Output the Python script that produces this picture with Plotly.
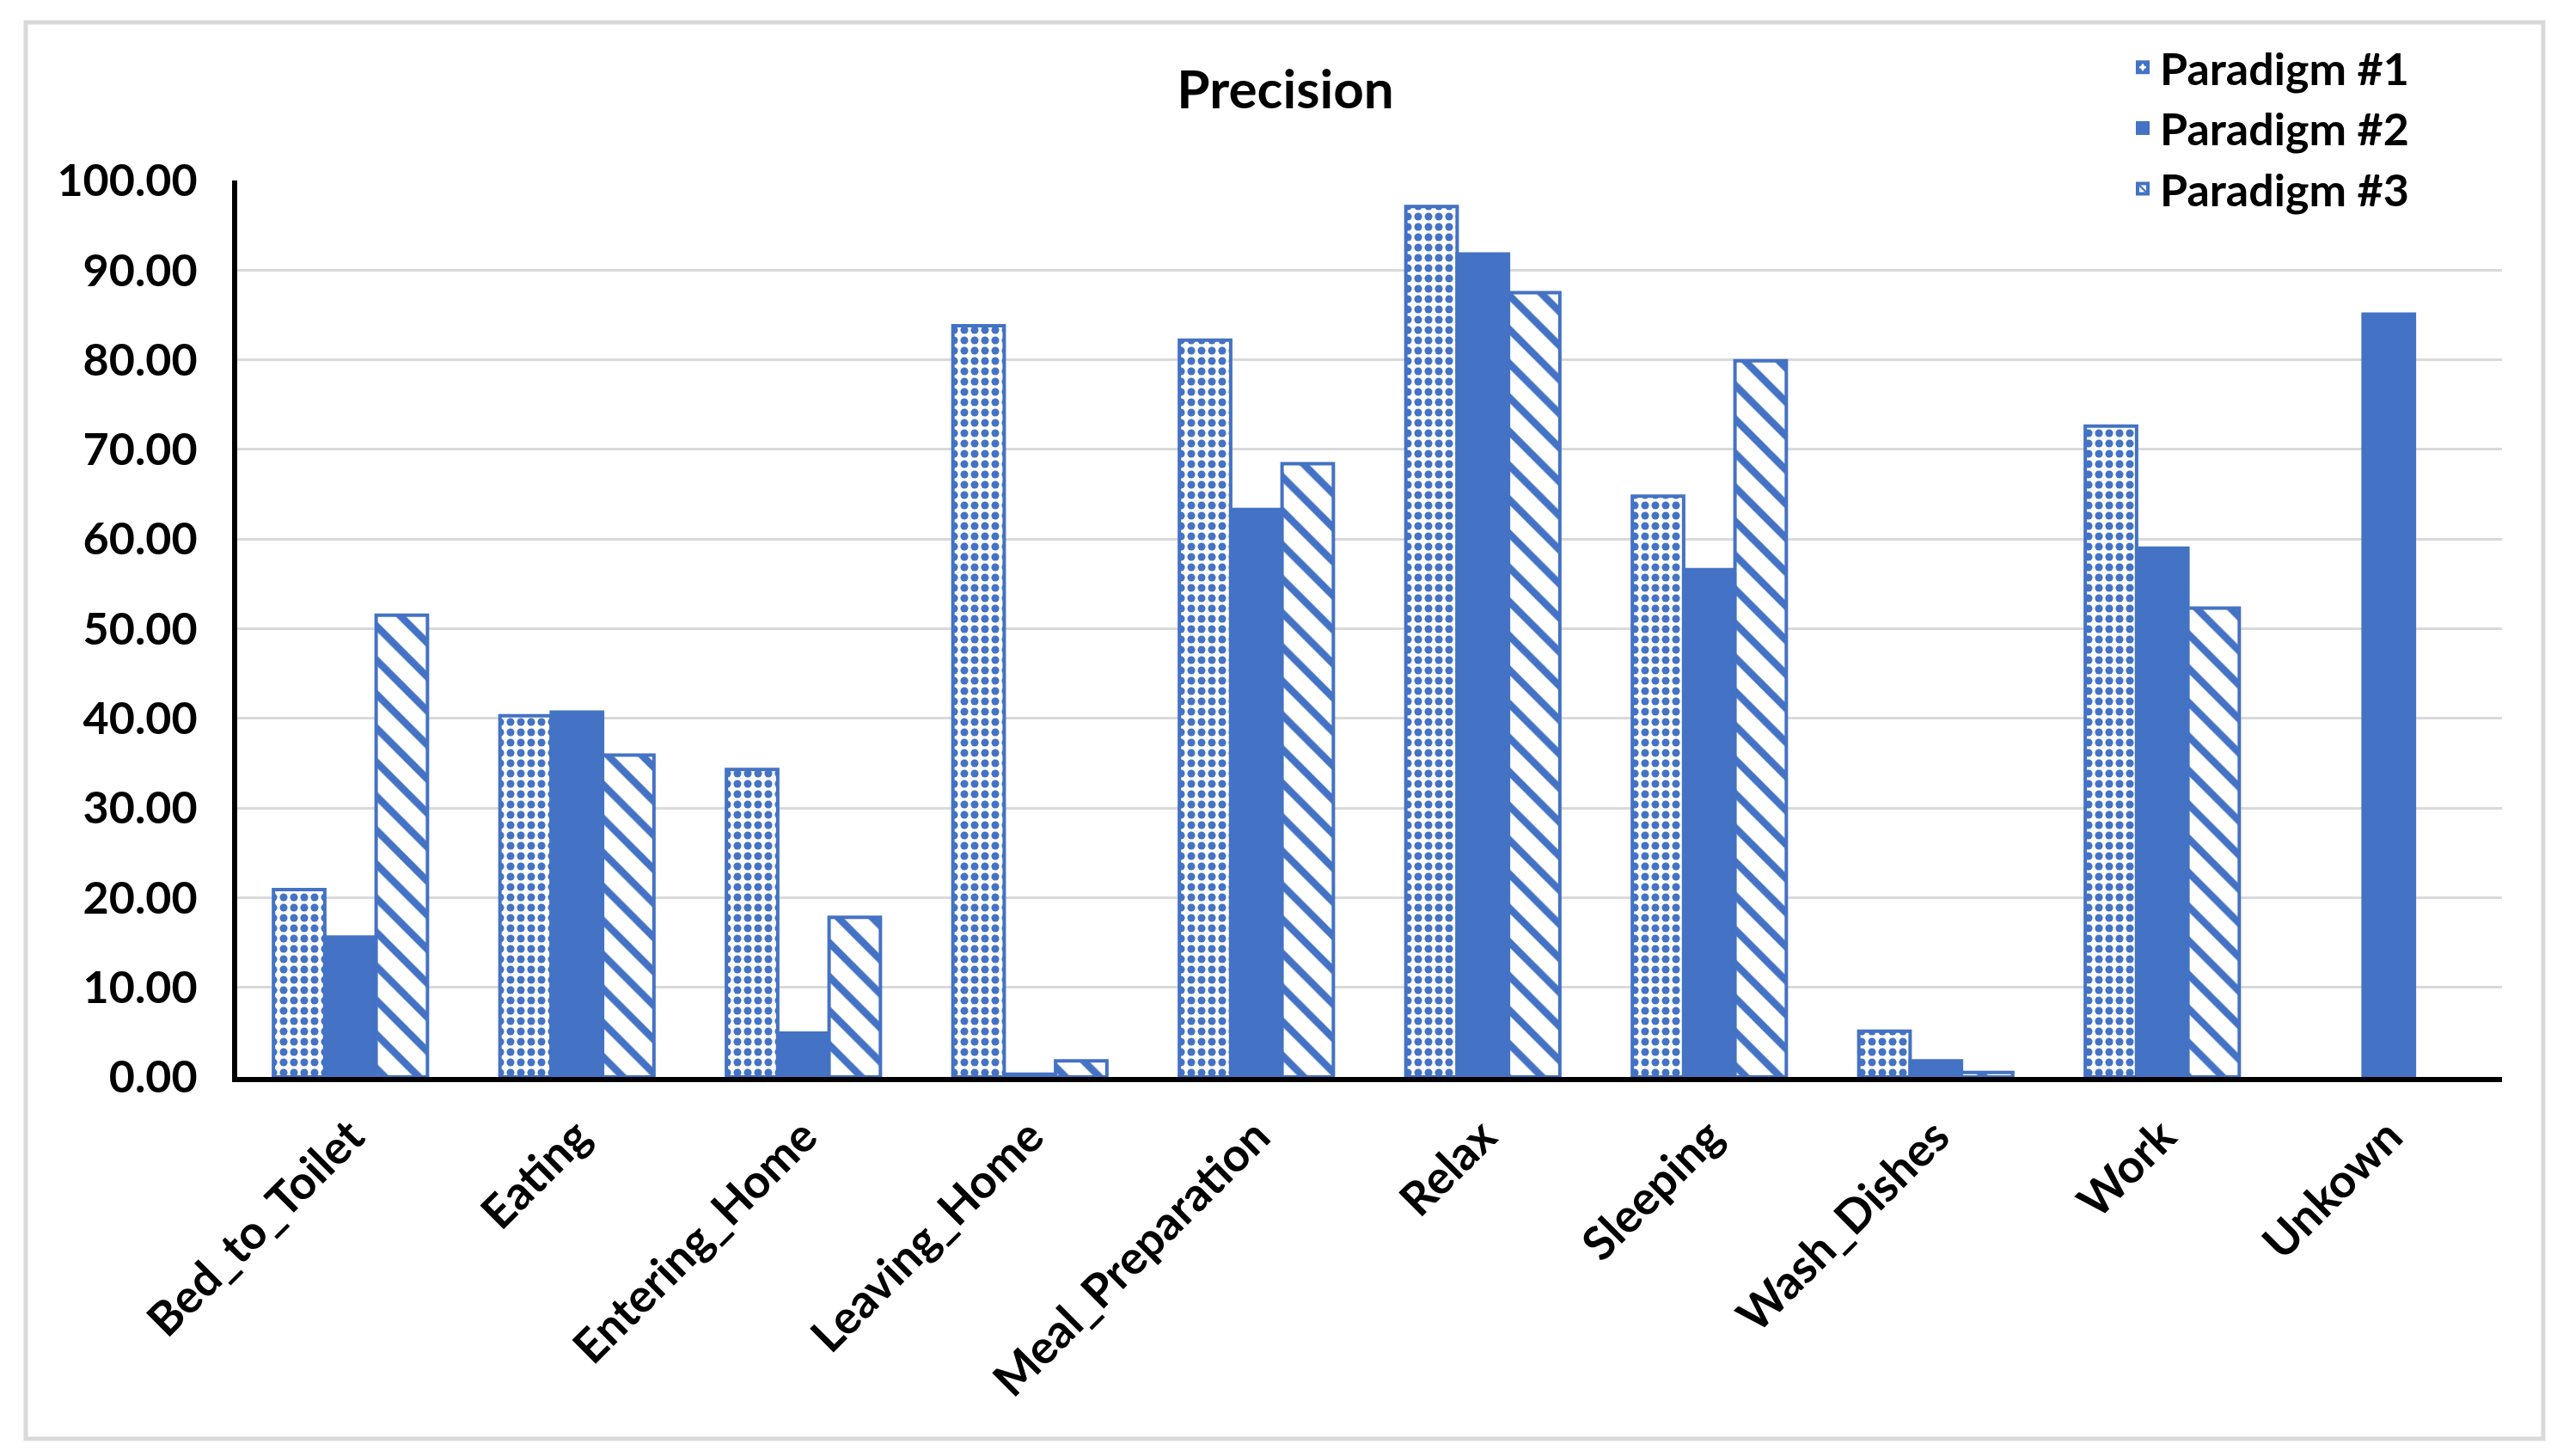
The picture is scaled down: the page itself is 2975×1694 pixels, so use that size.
import plotly.graph_objects as go

categories = ["Bed_to_Toilet", "Eating", "Entering_Home", "Leaving_Home", "Meal_Preparation",
              "Relax", "Sleeping", "Wash_Dishes", "Work", "Unkown"]
paradigm1 = [20.9, 40.3, 34.3, 83.8, 82.2, 97.1, 64.8, 5.1, 72.6, None]
paradigm2 = [15.6, 40.7, 4.9, 0.3, 63.3, 91.8, 56.6, 1.8, 59.0, 85.1]
paradigm3 = [51.5, 35.9, 17.8, 1.8, 68.4, 87.5, 79.9, 0.5, 52.3, None]
series_names = ["Paradigm #1", "Paradigm #2", "Paradigm #3"]
y_ticks = [0, 10, 20, 30, 40, 50, 60, 70, 80, 90, 100]

BLUE = "#4472C4"
FONT = "Lato"

W, H = 2975, 1694
L, R, T, B = 268, 72, 202, 449
pw, ph = W - L - R, H - T - B

fig = go.Figure()
fig.add_trace(go.Bar(
    x=categories, y=paradigm1, name=series_names[0],
    marker=dict(color="white", line=dict(color=BLUE, width=4),
                pattern=dict(shape=".", fgcolor=BLUE, bgcolor="white", size=12, solidity=0.45,
                             fillmode="replace")),
))
fig.add_trace(go.Bar(
    x=categories, y=paradigm2, name=series_names[1],
    marker=dict(color=BLUE, line=dict(color=BLUE, width=4)),
))
fig.add_trace(go.Bar(
    x=categories, y=paradigm3, name=series_names[2],
    marker=dict(color="white", line=dict(color=BLUE, width=4),
                pattern=dict(shape="\\", fgcolor=BLUE, bgcolor="white", size=28, solidity=0.3,
                             fillmode="replace")),
))

# outer light-gray border
fig.add_shape(type="rect", xref="paper", yref="paper",
              x0=(22 - L) / pw, x1=(2951 - L) / pw,
              y0=(T + ph - 1666) / ph, y1=(T + ph - 18) / ph,
              line=dict(color="#D9D9D9", width=5), fillcolor="rgba(0,0,0,0)", layer="below")

fig.update_layout(
    width=W, height=H,
    margin=dict(l=L, r=R, t=T, b=B, autoexpand=False),
    paper_bgcolor="white", plot_bgcolor="white",
    barmode="group", bargap=0.32, bargroupgap=0,
    font=dict(family=FONT, color="black", size=52),
    title=dict(text="<b>Precision</b>", x=0.5, xref="container", xanchor="center",
               y=1 - 96 / H, yref="container", yanchor="middle",
               font=dict(family=FONT, size=62, color="black")),
    legend=dict(x=(2465 - L) / pw, y=(T + ph - 30) / ph, xanchor="left", yanchor="top",
                bgcolor="rgba(0,0,0,0)", font=dict(family=FONT, size=52, color="black", weight="bold"),
                traceorder="normal"),
    xaxis=dict(showline=True, linecolor="black", linewidth=6, tickangle=-45,
               tickfont=dict(family=FONT, size=54, color="black", weight="bold"),
               ticks="", showgrid=False, ticklabelstandoff=10),
    yaxis=dict(range=[0, 100], tickvals=y_ticks, tickformat=".2f", showline=True,
               linecolor="black", linewidth=6, showgrid=True, gridcolor="#D9D9D9", gridwidth=3,
               tickfont=dict(family=FONT, size=52, color="black", weight="bold"),
               ticks="", ticklabelstandoff=30, zeroline=False),
)

fig.write_html("out.html")
